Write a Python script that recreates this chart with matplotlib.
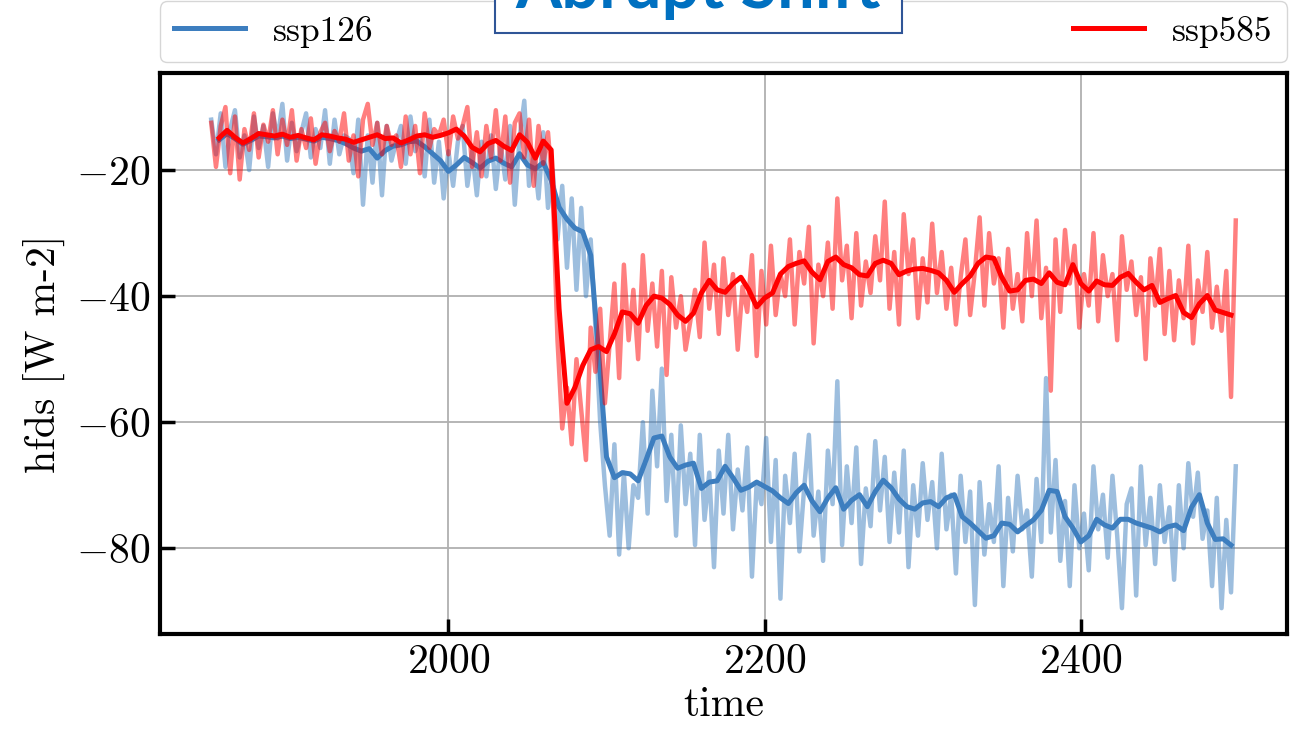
import numpy as np
import matplotlib
matplotlib.use("Agg")
import matplotlib.pyplot as plt
from matplotlib.patches import Rectangle

plt.rcParams["font.family"] = "serif"
plt.rcParams["font.serif"] = ["cmr10"]
plt.rcParams["mathtext.fontset"] = "cm"
plt.rcParams["axes.formatter.use_mathtext"] = True

# ---- data ----
labels = ["ssp126", "ssp585"]
raw_start, raw_step = 1850, 3
smooth_start, smooth_step = 1855, 5

ssp126_raw = [
    -12.0, -17.5, -11.0, -19.5, -13.5, -10.5, -18.0, -14.5, -20.0, -11.5,
    -16.5, -13.0, -19.5, -11.0, -15.0, -9.5, -18.5, -12.5, -17.0, -14.0,
    -11.0, -18.0, -13.5, -16.5, -10.5, -19.0, -12.0, -17.5, -14.5, -15.0,
    -20.5, -12.0, -25.5, -14.5, -22.0, -12.5, -24.0, -13.0, -18.5, -15.5,
    -13.0, -19.0, -11.5, -17.0, -14.5, -21.0, -12.0, -22.0, -15.5, -24.5,
    -17.0, -22.5, -15.5, -13.0, -22.5, -17.0, -24.0, -15.5, -21.0, -14.5,
    -23.0, -16.0, -21.5, -13.0, -25.5, -15.0, -9.0, -22.5, -17.5, -24.5,
    -14.0, -26.0, -20.0, -31.0, -22.5, -35.5, -24.5, -39.0, -26.0, -40.0,
    -31.0, -45.0, -60.0, -70.0, -78.0, -63.5, -81.0, -68.0, -80.0, -70.0,
    -72.0, -60.0, -74.5, -55.0, -67.0, -51.5, -72.5, -62.0, -78.0, -60.5,
    -73.0, -65.0, -79.5, -62.0, -75.5, -68.0, -83.0, -64.5, -74.5, -62.0,
    -77.0, -67.5, -74.0, -64.0, -84.5, -69.5, -73.0, -62.5, -79.0, -66.0,
    -88.0, -68.5, -76.0, -65.0, -80.5, -70.5, -62.0, -78.0, -71.0, -82.0,
    -64.5, -73.0, -53.5, -79.5, -67.0, -76.0, -64.0, -82.5, -70.5, -76.5,
    -63.0, -74.0, -65.5, -79.0, -68.0, -77.5, -64.5, -83.0, -70.0, -78.0,
    -66.5, -75.5, -69.5, -80.0, -65.0, -77.0, -71.5, -84.0, -68.5, -79.0,
    -71.0, -89.0, -69.5, -81.0, -73.0, -79.0, -67.0, -86.0, -72.0, -80.5,
    -68.5, -77.0, -74.0, -84.5, -69.0, -79.0, -53.0, -77.5, -66.0, -82.0,
    -72.5, -86.0, -70.0, -80.0, -74.5, -83.5, -67.0, -77.0, -71.5, -81.5,
    -68.5, -78.0, -89.5, -73.0, -70.5, -87.5, -67.0, -79.5, -72.0, -82.5,
    -70.0, -79.0, -73.5, -85.0, -70.0, -80.0, -66.5, -75.0, -68.0, -78.5,
    -74.0, -86.0, -72.0, -89.5, -75.5, -87.0, -67.0,
]

ssp585_raw = [
    -12.5, -19.5, -13.0, -10.0, -20.5, -11.5, -21.5, -13.5, -16.8, -11.0,
    -18.0, -12.8, -15.5, -10.5, -17.5, -12.0, -16.0, -10.5, -18.5, -13.5,
    -16.5, -11.8, -19.0, -14.0, -12.5, -17.0, -13.8, -15.5, -11.0, -18.5,
    -14.5, -21.0, -12.0, -9.5, -16.0, -12.5, -17.5, -13.0, -16.0, -14.5,
    -19.5, -11.5, -17.5, -13.0, -20.5, -11.0, -16.5, -13.5, -14.5, -12.0,
    -17.5, -11.5, -15.0, -13.0, -10.0, -19.5, -14.0, -21.0, -13.0, -18.0,
    -10.5, -18.5, -11.5, -22.0, -12.5, -11.0, -18.0, -12.0, -22.5, -13.0,
    -19.0, -14.0, -23.5, -47.0, -61.0, -54.5, -63.5, -50.0, -58.0, -66.0,
    -45.0, -52.0, -42.0, -57.0, -47.5, -38.0, -53.0, -35.0, -47.0, -39.0,
    -50.0, -33.5, -45.5, -38.0, -48.0, -36.0, -52.5, -37.0, -45.0, -40.0,
    -48.5, -44.0, -39.0, -46.5, -31.5, -42.0, -35.0, -46.0, -34.0, -43.0,
    -36.5, -48.5, -38.5, -42.5, -33.5, -49.5, -36.0, -44.5, -32.0, -43.0,
    -36.5, -40.0, -31.0, -44.5, -33.0, -38.0, -29.0, -47.5, -35.0, -40.0,
    -31.5, -42.0, -24.5, -37.5, -32.0, -43.5, -30.0, -41.5, -34.5, -39.5,
    -30.5, -37.5, -25.0, -42.0, -33.0, -44.5, -27.0, -36.5, -31.0, -43.5,
    -34.0, -41.0, -28.5, -39.5, -33.0, -42.0, -35.5, -44.5, -37.0, -31.0,
    -43.0, -36.0, -27.5, -41.5, -30.0, -38.0, -34.0, -45.0, -32.5, -42.0,
    -36.5, -44.0, -30.0, -40.0, -28.0, -43.5, -35.5, -55.0, -31.0, -42.5,
    -29.5, -38.0, -32.0, -45.0, -36.5, -41.5, -30.0, -44.0, -33.5, -40.0,
    -36.5, -47.0, -30.5, -39.0, -34.5, -43.0, -37.0, -50.0, -34.0, -41.5,
    -32.5, -46.0, -36.0, -47.0, -37.5, -43.5, -32.0, -47.5, -37.5, -42.5,
    -33.0, -45.0, -38.5, -45.5, -36.0, -56.0, -28.0,
]

ssp126_smooth = [
    -15.2, -14.2, -15.0, -15.9, -15.3, -14.6, -14.7, -14.9, -14.6, -15.0,
    -14.8, -15.1, -15.4, -14.8, -15.0, -15.3, -15.8, -16.5, -17.0, -16.6,
    -18.1, -16.9, -16.2, -16.0, -15.5, -15.4, -16.3, -17.4, -18.5, -20.2,
    -19.2, -18.0, -18.8, -19.7, -18.6, -18.1, -18.9, -19.5, -17.4, -19.2,
    -19.8, -18.8, -21.6, -25.9, -27.8, -29.2, -29.8, -33.5, -49.0, -65.5,
    -68.8, -68.0, -68.2, -69.3, -66.0, -62.5, -62.2, -65.5, -67.3, -66.8,
    -66.5, -70.5, -69.5, -69.3, -67.0, -68.8, -70.8, -70.3, -69.5, -70.2,
    -70.9, -72.0, -72.9, -71.2, -70.0, -72.5, -74.2, -72.0, -70.4, -73.8,
    -72.4, -71.5, -73.4, -71.0, -69.2, -70.4, -72.2, -73.4, -73.8, -72.8,
    -72.6, -73.4, -72.0, -71.5, -75.0, -76.0, -77.2, -78.4, -78.0, -76.0,
    -76.2, -77.4, -76.4, -75.5, -74.0, -70.8, -71.0, -75.0, -76.8, -79.0,
    -78.0, -75.4, -76.3, -76.8, -75.4, -75.4, -76.0, -76.4, -76.8, -77.4,
    -76.6, -76.3, -77.2, -73.5, -71.5, -76.0, -78.6, -78.5, -79.5,
]

ssp585_smooth = [
    -14.9, -13.7, -14.8, -15.7, -15.0, -14.2, -14.4, -14.6, -14.3, -14.8,
    -14.5, -14.9, -15.2, -14.4, -14.6, -14.9, -15.1, -15.6, -15.2, -14.8,
    -14.4, -15.0, -14.9, -15.7, -15.2, -14.6, -14.4, -14.8, -14.5, -14.1,
    -13.5, -14.6, -16.4, -17.1, -15.8, -15.3, -16.2, -16.9, -14.4, -15.6,
    -18.1, -15.4, -16.8, -42.0, -57.0, -54.5, -51.0, -48.5, -48.0, -48.8,
    -46.0, -42.5, -42.8, -44.3, -41.5, -40.0, -40.3, -41.3, -43.0, -44.0,
    -42.7, -39.5, -37.5, -39.0, -39.4, -38.0, -37.0, -39.0, -41.7, -40.3,
    -39.5, -36.5, -35.3, -34.8, -34.4, -36.2, -37.4, -34.5, -33.8, -35.0,
    -35.5, -36.6, -36.8, -34.8, -34.3, -34.8, -36.6, -36.0, -35.7, -35.6,
    -35.9, -36.3, -37.5, -39.4, -38.0, -36.8, -34.8, -33.8, -34.0, -37.0,
    -39.2, -39.0, -37.5, -37.3, -38.0, -36.3, -37.8, -38.2, -35.0, -38.0,
    -39.2, -37.6, -38.2, -38.3, -37.0, -36.4, -37.8, -39.0, -38.3, -41.0,
    -40.4, -39.9, -42.6, -43.4, -41.2, -39.9, -42.2, -42.6, -43.0,
]

colors = ["#3d7ebf", "#ff0000"]


def years(vals, start, step):
    return start + step * np.arange(len(vals))


fig = plt.figure(figsize=(13.01, 7.29), dpi=100)
ax = fig.add_axes([160 / 1301, 95 / 729, 1127 / 1301, 561 / 729])

series = [(ssp126_raw, ssp126_smooth), (ssp585_raw, ssp585_smooth)]
for (raw, smooth), lab, col in zip(series, labels, colors):
    ax.plot(years(raw, raw_start, raw_step), raw, color=col, lw=3.2, alpha=0.5)
    ax.plot(years(smooth, smooth_start, smooth_step), smooth, color=col, lw=3.6, label=lab)

ax.set_ylim(-93.6, -4.6)
ax.set_yticks([-80, -60, -40, -20])
ax.set_xticks([2000, 2200, 2400])
ax.grid(True, color="#b0b0b0", lw=1.3)
ax.set_axisbelow(True)

for s in ax.spines.values():
    s.set_linewidth(3)
ax.tick_params(direction="in", length=11, width=2.5, labelsize=30, pad=7,
               top=False, right=False)
ax.set_xlabel("time", fontsize=30, labelpad=4)
ax.set_ylabel("hfds [W m-2]", fontsize=30, labelpad=8)

ax.legend(loc="lower left", bbox_to_anchor=(0, 1.02, 1.0, 0.1), mode="expand",
          ncol=2, borderaxespad=0, fontsize=25.5, handlelength=2.0)

# overlaid title box, mostly cut off at the top edge as in the reference
fig.patches.append(Rectangle((495 / 1301, 1 - 33 / 729), 407 / 1301, 0.2,
                             transform=fig.transFigure, facecolor="white",
                             edgecolor="#2f5597", lw=1.5, zorder=10))
fig.text(698 / 1301, 1 - 8 / 729, "Abrupt Shift", ha="center", va="baseline",
         fontsize=48, fontweight="bold", color="#0070c0", family="Lato", zorder=11)

fig.savefig("out.png", dpi=100)
